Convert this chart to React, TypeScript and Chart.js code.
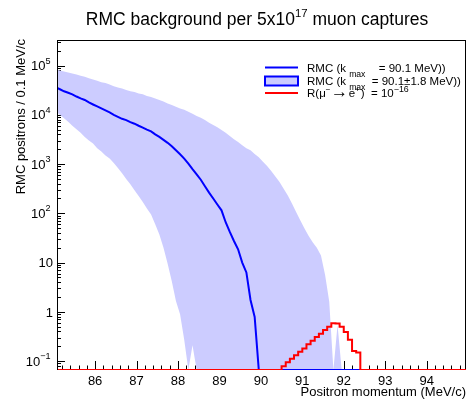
import { useEffect, useRef } from "react";
import { Chart, registerables } from "chart.js";

Chart.register(...registerables);

// ---------------- data ----------------
// histogram bins of 0.1 MeV/c, first bin centre at 85.05 MeV/c
const BIN_FIRST_CENTER = 85.05;
const BIN_WIDTH = 0.1;
const BIN_COUNT = 101;

const xRange = [85.08, 94.95];
const yRange = [0.066, 3.3e5];

const xLabelValues = [86, 87, 88, 89, 90, 91, 92, 93, 94];
const yLabelExponents = [5, 4, 3, 2, 1, 0, -1];

// RMC, k_max = 90.1 MeV (from 85.05 MeV/c)
const centralStart = 85.05;
const centralRMC = [
  3.6e4, 3.3e4, 3.0e4, 2.8e4, 2.6e4, 2.35e4, 2.15e4, 2.0e4, 1.78e4, 1.62e4,
  1.48e4, 1.35e4, 1.23e4, 1.12e4, 1.0e4, 9.1e3, 8.3e3, 7.8e3, 7.1e3, 6.6e3,
  6.0e3, 5.5e3, 5.0e3, 4.6e3, 4.0e3, 3.55e3, 3.1e3, 2.7e3, 2.3e3, 1.9e3,
  1.58e3, 1.29e3, 1.02e3, 790, 620, 480, 355, 263, 200, 151,
  115, 66, 42, 27.5, 18.6, 10, 6.3, 1.74, 0.79,
];

// RMC band, k_max = 90.1 + 1.8 MeV (upper edge)
const upperStart = 85.05;
const upperRMC = [
  8.3e4, 7.9e4, 7.6e4, 7.2e4, 6.9e4, 6.6e4, 6.2e4, 5.9e4, 5.5e4, 5.2e4,
  4.9e4, 4.6e4, 4.4e4, 4.1e4, 3.8e4, 3.6e4, 3.4e4, 3.2e4, 3.0e4, 2.9e4,
  2.7e4, 2.6e4, 2.4e4, 2.3e4, 2.15e4, 2.0e4, 1.86e4, 1.7e4, 1.58e4, 1.45e4,
  1.35e4, 1.26e4, 1.15e4, 1.05e4, 9.5e3, 8.7e3, 7.8e3, 6.9e3, 6.2e3, 5.6e3,
  4.9e3, 4.3e3, 3.7e3, 3.2e3, 2.8e3, 2.4e3, 2.1e3, 1.9e3, 1.6e3, 1.38e3,
  1.12e3, 910, 720, 560, 430, 316, 230, 158, 107, 72,
  50, 35, 26, 20, 14, 5.6, 1.6, 0, 0.54, 0,
];

// RMC band, k_max = 90.1 - 1.8 MeV (lower edge)
const lowerStart = 85.05;
const lowerRMC = [
  1.17e4, 1.0e4, 8.5e3, 7.2e3, 6.0e3, 5.1e3, 4.3e3, 3.55e3, 3.0e3, 2.6e3,
  2.1e3, 1.8e3, 1.5e3, 1.29e3, 1.05e3, 830, 650, 500, 390, 295,
  224, 170, 126, 95, 60, 37, 20, 9.5, 4.2, 1.66,
  0.89, 0.27, 0, 0.21, 0,
];

// Signal, R(mu- -> e+) = 1e-16 (from 90.55 MeV/c)
const signalStart = 90.55;
const signalR = [
  0.079, 0.095, 0.112, 0.132, 0.155, 0.18, 0.22, 0.26, 0.31, 0.36,
  0.43, 0.5, 0.59, 0.58, 0.5, 0.39, 0.27, 0.16, 0.15,
];

// ---------------- helpers ----------------
const FONT = '"Liberation Sans", Arial, Helvetica, sans-serif';

const binCenters = Array.from(
  { length: BIN_COUNT },
  (_, i) => Math.round((BIN_FIRST_CENTER + i * BIN_WIDTH) * 100) / 100
);

function toPoints(vals: number[], start: number) {
  return binCenters.map((x) => {
    const i = Math.round((x - start) / BIN_WIDTH);
    const v = i >= 0 && i < vals.length ? vals[i] : 0;
    // empty bins are drawn on the lower frame edge (as on a log axis)
    return { x, y: v > 0 ? v : yRange[0] };
  });
}

type Seg = { t: string; k?: "sup" | "sub"; s?: number; pad?: number };

function drawRich(
  ctx: CanvasRenderingContext2D,
  segs: Seg[],
  x: number,
  y: number,
  size: number,
  align: "left" | "right" | "center",
  opts: { supScale?: number; supRise?: number; subDrop?: number } = {}
) {
  const supScale = opts.supScale ?? 0.7;
  const supRise = opts.supRise ?? 0.45;
  const subDrop = opts.subDrop ?? 0.3;
  const parts = segs.map((s) => {
    const fs = (s.k ? size * supScale : size) * (s.s ?? 1);
    ctx.font = `${fs}px ${FONT}`;
    return { ...s, fs, w: ctx.measureText(s.t).width + (s.pad ?? 0) };
  });
  const total = parts.reduce((a, p) => a + p.w, 0);
  let cx = align === "left" ? x : align === "right" ? x - total : x - total / 2;
  ctx.textAlign = "left";
  ctx.textBaseline = "alphabetic";
  for (const p of parts) {
    ctx.font = `${p.fs}px ${FONT}`;
    const dy = p.k === "sup" ? -size * supRise : p.k === "sub" ? size * subDrop : 0;
    ctx.fillText(p.t, cx, y + dy);
    cx += p.w;
  }
  return total;
}

const rootStyle = {
  id: "rootStyle",
  beforeDatasetsDraw(chart: any) {
    const { ctx, chartArea: a, scales } = chart;
    const xs = scales.x;
    const ys = scales.y;
    ctx.save();
    ctx.strokeStyle = "#000";
    ctx.lineWidth = 1;
    ctx.beginPath();
    // x ticks (inside the frame)
    for (let k = Math.ceil(xRange[0] * 5); k <= Math.floor(xRange[1] * 5); k++) {
      const v = k / 5;
      const major = k % 5 === 0;
      const px = Math.round(xs.getPixelForValue(v)) + 0.5;
      ctx.moveTo(px, a.bottom);
      ctx.lineTo(px, a.bottom - (major ? 9 : 4.5));
    }
    // y ticks (log)
    for (let e = -2; e <= 5; e++) {
      for (let m = 1; m <= 9; m++) {
        const v = m * Math.pow(10, e);
        if (v < yRange[0] || v > yRange[1]) continue;
        const py = Math.round(ys.getPixelForValue(v)) + 0.5;
        ctx.moveTo(a.left, py);
        ctx.lineTo(a.left + (m === 1 ? 8 : 4), py);
      }
    }
    // frame: bottom, top, right
    ctx.moveTo(a.left, a.bottom - 0.5);
    ctx.lineTo(a.right, a.bottom - 0.5);
    ctx.moveTo(a.left, a.top + 0.5);
    ctx.lineTo(a.right, a.top + 0.5);
    ctx.moveTo(a.right - 0.5, a.top);
    ctx.lineTo(a.right - 0.5, a.bottom);
    ctx.stroke();
    ctx.restore();
  },
  afterDatasetsDraw(chart: any) {
    const { ctx, chartArea: a, scales } = chart;
    const xs = scales.x;
    const ys = scales.y;
    ctx.save();
    // left axis line
    ctx.strokeStyle = "#000";
    ctx.lineWidth = 1;
    ctx.beginPath();
    ctx.moveTo(a.left + 0.5, a.top);
    ctx.lineTo(a.left + 0.5, a.bottom);
    ctx.stroke();

    ctx.fillStyle = "#000";
    // x tick labels
    const tickFs = 13;
    for (const v of xLabelValues) {
      drawRich(ctx, [{ t: String(v) }], xs.getPixelForValue(v), 385, tickFs, "center");
    }
    // y tick labels
    for (const e of yLabelExponents) {
      const py = ys.getPixelForValue(Math.pow(10, e));
      const base = py + tickFs * 0.716 / 2;
      if (e === 0) drawRich(ctx, [{ t: "1" }], 53, base, tickFs, "right");
      else if (e === 1) drawRich(ctx, [{ t: "10" }], 53, base, tickFs, "right");
      else
        drawRich(
          ctx,
          [{ t: "10" }, { t: e < 0 ? "\u2212" + String(-e) : String(e), k: "sup" }],
          50.5,
          base,
          tickFs,
          "right",
          { supRise: 0.5 }
        );
    }
    // axis titles
    drawRich(ctx, [{ t: "Positron momentum (MeV/c)" }], 466, 396, 13, "right");
    ctx.save();
    ctx.translate(25, 39);
    ctx.rotate(-Math.PI / 2);
    drawRich(ctx, [{ t: "RMC positrons / 0.1 MeV/c" }], 0, 0, 13, "right");
    ctx.restore();

    // main title
    drawRich(
      ctx,
      [{ t: "RMC background per 5x10" }, { t: "17", k: "sup" }, { t: " muon captures" }],
      257,
      24.5,
      17.5,
      "center",
      { supScale: 0.65, supRise: 0.42 }
    );

    // legend
    const lx0 = 265;
    const lx1 = 298;
    const tx = 307;
    const lfs = 11.5;
    const rows = [67.5, 81, 93];
    ctx.lineWidth = 2;
    ctx.strokeStyle = "#0000ff";
    ctx.beginPath();
    ctx.moveTo(lx0, rows[0]);
    ctx.lineTo(lx1, rows[0]);
    ctx.stroke();
    ctx.fillStyle = "#ccccff";
    ctx.fillRect(lx0, rows[1] - 4.5, lx1 - lx0, 9);
    ctx.strokeRect(lx0, rows[1] - 4.5, lx1 - lx0, 9);
    ctx.strokeStyle = "#ff0000";
    ctx.beginPath();
    ctx.moveTo(lx0, rows[2]);
    ctx.lineTo(lx1, rows[2]);
    ctx.stroke();

    ctx.fillStyle = "#000";
    const lb = (r: number) => r + lfs * 0.716 / 2;
    drawRich(
      ctx,
      [{ t: "RMC (k " }, { t: "max", k: "sub", pad: 7 }, { t: "  = 90.1 MeV))" }],
      tx,
      lb(rows[0]),
      lfs,
      "left",
      { subDrop: 0.45, supScale: 0.75 }
    );
    drawRich(
      ctx,
      [{ t: "RMC (k " }, { t: "max", k: "sub" }, { t: "  = 90.1\u00b11.8 MeV))" }],
      tx,
      lb(rows[1]),
      lfs,
      "left",
      { subDrop: 0.45, supScale: 0.75 }
    );
    drawRich(
      ctx,
      [
        { t: "R(\u03bc" },
        { t: "\u2212", k: "sup" },
        { t: "\u2192", s: 1.5, pad: 1 },
        { t: "e" },
        { t: "+", k: "sup", pad: 1 },
        { t: ")  = 10" },
        { t: "\u221216", k: "sup", s: 1.1 },
      ],
      tx,
      lb(rows[2]),
      lfs,
      "left",
      { supRise: 0.45 }
    );
    ctx.restore();
  },
};

export default function App() {
  const canvasRef = useRef<HTMLCanvasElement | null>(null);

  useEffect(() => {
    if (!canvasRef.current) return;
    const chart = new Chart(canvasRef.current, {
      type: "line",
      data: {
        datasets: [
          {
            label: "R(mu- -> e+) = 1e-16",
            data: toPoints(signalR, signalStart),
            borderColor: "#ff0000",
            borderWidth: 2,
            stepped: "middle",
            pointRadius: 0,
            fill: false,
            order: 0,
          },
          {
            label: "RMC (kmax = 90.1 MeV)",
            data: toPoints(centralRMC, centralStart),
            borderColor: "#0000ff",
            borderWidth: 2,
            pointRadius: 0,
            fill: false,
            order: 1,
          },
          {
            label: "RMC band upper",
            data: toPoints(upperRMC, upperStart),
            borderColor: "rgba(0,0,0,0)",
            borderWidth: 1,
            backgroundColor: "#ccccff",
            pointRadius: 0,
            fill: "+1",
            order: 2,
          },
          {
            label: "RMC band lower",
            data: toPoints(lowerRMC, lowerStart),
            borderColor: "rgba(0,0,0,0)",
            borderWidth: 1,
            pointRadius: 0,
            fill: false,
            order: 3,
          },
        ],
      },
      options: {
        animation: false,
        responsive: false,
        maintainAspectRatio: false,
        devicePixelRatio: 1,
        events: [],
        layout: { padding: { left: 57, right: 1, top: 40, bottom: 30 } },
        plugins: {
          legend: { display: false },
          title: { display: false },
          tooltip: { enabled: false },
        },
        scales: {
          x: { type: "linear", min: xRange[0], max: xRange[1], display: false },
          y: { type: "logarithmic", min: yRange[0], max: yRange[1], display: false },
        },
      },
      plugins: [rootStyle],
    });
    return () => chart.destroy();
  }, []);

  return (
    <div style={{ position: "absolute", left: 0, top: 0, width: 467, height: 400, background: "#fff" }}>
      <canvas ref={canvasRef} width={467} height={400} style={{ display: "block" }} />
    </div>
  );
}
